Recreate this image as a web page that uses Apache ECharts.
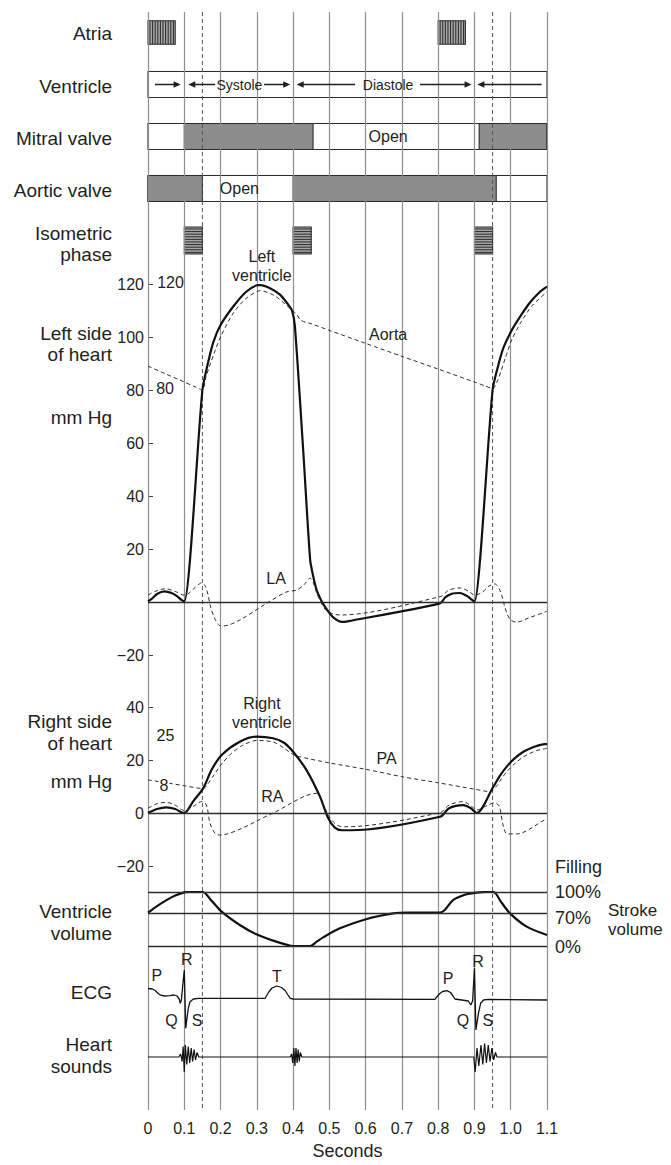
<!DOCTYPE html>
<html>
<head>
<meta charset="utf-8">
<script src="https://cdn.jsdelivr.net/npm/echarts@6/dist/echarts.min.js"></script>
<style>html,body{margin:0;padding:0;background:#fff}#c{width:671px;height:1165px}</style>
</head>
<body>
<div id="c"></div>
<script>
// ---------------- DATA ----------------
const timeTicks = [0, 0.1, 0.2, 0.3, 0.4, 0.5, 0.6, 0.7, 0.8, 0.9, 1.0, 1.1];
const dashedTimes = [0.15, 0.95];

// event rows (start, end in seconds)
const atriaSpans = [[0, 0.075], [0.8, 0.875]];
const mitralClosed = [[0.1, 0.455], [0.913, 1.1]];
const aorticClosed = [[0, 0.15], [0.4, 0.96]];
const isometricSpans = [[0.1, 0.15], [0.4, 0.45], [0.9, 0.95]];
const cycleArrows = [[0.019, 0.09, 1], [0.111, 0.185, -1], [0.32, 0.392, 1], [0.41, 0.571, -1], [0.75, 0.892, 1], [0.908, 1.085, -1]];
const rowTexts = [[0.252, 1, 'Systole', 14], [0.662, 1, 'Diastole', 14], [0.662, 2, 'Open', 16], [0.252, 3, 'Open', 16]];

// left heart pressures (mm Hg)
const leftVentricle = [[0,0.3],[0.01,1.2],[0.025,3],[0.045,4],[0.065,3.4],[0.08,2.2],[0.092,0.8],[0.1,0.2],
  [0.15,80],[0.165,90],[0.18,98],[0.2,104.5],[0.235,111.5],[0.27,117],[0.3,119.5],[0.31,119.6],[0.335,118.5],[0.364,116],[0.385,112.5],[0.397,110],
  [0.405,104],[0.428,57],[0.447,16],[0.455,10],[0.465,4.5],[0.478,0.5],[0.49,-2.2],[0.51,-5.7],[0.535,-7.5],[0.55,-7.3],
  [0.805,-0.5],[0.82,1.8],[0.84,3.2],[0.86,3.4],[0.88,2.2],[0.895,0.6],[0.9,0.1],
  [0.95,80],[0.965,89],[0.98,96],[1.003,102.6],[1.03,108.5],[1.053,113],[1.08,117],[1.1,119]];
const aorta = [[0,89],[0.05,86],[0.1,83],[0.13,81.2],[0.15,80],[0.16,85],[0.18,93],[0.2,100],[0.235,109],[0.27,114.5],[0.31,117.5],[0.35,115.5],[0.39,111],[0.41,108.5],
  [0.42,106.5],[0.435,105.5],[0.45,105],[0.5,102.5],[0.6,97.6],[0.7,92.7],[0.8,87.9],[0.9,83],[0.93,81.5],[0.95,80.5],[0.965,84],[0.985,92],[1.003,99],[1.03,106],[1.06,112],[1.1,117]];
const leftAtrium = [[0,2.6],[0.02,4],[0.047,5],[0.075,4],[0.1,2.6],[0.11,3],[0.13,5.5],[0.148,7.2],[0.158,6],[0.165,3],[0.172,-1.5],[0.185,-6.5],[0.2,-9],[0.21,-9],
  [0.253,-6.8],[0.327,-0.5],[0.382,3.8],[0.41,4.5],[0.43,6.5],[0.447,9],[0.455,7.5],[0.465,3.5],[0.478,-0.5],[0.49,-3],[0.51,-4.5],[0.53,-4.9],
  [0.805,2],[0.83,4.5],[0.86,5.3],[0.885,4],[0.9,2.6],[0.92,3.5],[0.94,6],[0.957,6.8],[0.968,5],[0.975,2.6],[0.982,-1],[0.99,-4.5],[1.0,-6.8],[1.016,-7.6],[1.05,-6],[1.094,-3.8],[1.1,-3.5]];

// right heart pressures (mm Hg)
const rightVentricle = [[0,0],[0.025,1.5],[0.051,2.1],[0.075,1.5],[0.092,0.3],[0.1,0],[0.125,4.5],[0.152,9.3],[0.175,16.2],[0.203,21.9],[0.253,26.9],[0.299,28.8],[0.345,28.2],[0.375,26.5],[0.4,23.1],
  [0.437,16.2],[0.474,6.2],[0.497,-2],[0.515,-5.5],[0.535,-6.5],[0.56,-6.5],[0.805,-1.4],[0.83,1.8],[0.869,3],[0.89,1.8],[0.906,0],
  [0.952,9.9],[0.97,14],[0.989,17.5],[1.01,20.5],[1.035,23.1],[1.065,25],[1.094,26],[1.1,26]];
const pulmonaryArtery = [[0,12.5],[0.05,11.4],[0.1,10.3],[0.152,9.2],[0.165,11],[0.18,14],[0.203,18.5],[0.23,22.5],[0.26,25.5],[0.3,27.4],[0.345,26.8],[0.375,24.5],[0.395,22.5],[0.41,21.5],
  [0.5,18.9],[0.6,16.5],[0.7,13.7],[0.8,11.4],[0.9,9],[0.945,8],[0.96,10],[0.975,13],[0.989,15.6],[1.01,18.5],[1.035,21.2],[1.07,23.5],[1.1,24.4]];
const rightAtrium = [[0,1.8],[0.025,3.5],[0.051,4],[0.075,3],[0.092,1.3],[0.1,1],[0.125,2.5],[0.148,4.3],[0.157,3.8],[0.163,2.2],[0.171,-3.9],[0.185,-7.7],[0.198,-8.3],[0.21,-8.2],
  [0.345,0],[0.464,7.4],[0.478,4.9],[0.497,-0.8],[0.52,-4.5],[0.543,-5.2],[0.805,0.1],[0.83,3],[0.869,4.3],[0.895,2.2],[0.906,1.1],[0.93,2.5],[0.957,3.9],[0.966,3],[0.97,1.9],
  [0.98,-5.2],[0.99,-7.9],[1.016,-7.9],[1.094,-2.6],[1.1,-2.3]];

// ventricle volume (relative scale; level lines)
const ventricleVolume = [[0,61.7],[0.025,74],[0.051,85],[0.075,93.5],[0.1,99.4],[0.11,100],[0.15,100],[0.175,84],[0.203,63.6],[0.253,38.9],[0.299,21.6],[0.345,9.9],[0.391,0.6],[0.4,0],[0.447,0],
  [0.465,8],[0.483,16],[0.529,32.7],[0.603,50],[0.676,60.5],[0.713,62],[0.805,62],[0.818,66.7],[0.841,85],[0.878,95.7],[0.906,98.8],[0.93,100],[0.952,100],[0.975,80],[0.998,60.5],[1.044,35.8],[1.1,20.4]];
const volumeLevels = [100, 61, 0];

// ECG (arbitrary units)
const ecg = [[0,1.05],[0.012,1.0],[0.02,0.85],[0.028,0.55],[0.035,0.38],[0.045,0.3],[0.06,0.33],[0.072,0.4],[0.08,0.3],[0.086,0],[0.089,-0.43],[0.092,-0.1],[0.1,2.9],[0.104,-2.93],[0.111,-0.93],[0.116,-0.27],[0.125,0],[0.139,0.07],
  [0.323,0.07],[0.328,0.4],[0.334,0.75],[0.342,1.1],[0.355,1.3],[0.368,1.15],[0.378,0.85],[0.386,0.4],[0.392,0.07],[0.4,0],
  [0.791,-0.03],[0.796,0.2],[0.803,0.5],[0.812,0.75],[0.824,0.83],[0.834,0.65],[0.841,0.3],[0.846,0],[0.865,-0.1],[0.883,-0.2],[0.89,-0.6],[0.895,-0.17],[0.9,3.07],[0.904,-3.1],[0.911,-1.43],[0.917,-0.43],[0.925,-0.1],[0.938,-0.03],[1.1,-0.1]];

// heart sounds (arbitrary units)
const heartSounds = [[0,0],[0.085,0],[0.09,2],[0.094,-3],[0.097,7],[0.1,-10],[0.103,8],[0.107,-5],[0.111,7],[0.115,-4],[0.119,6],[0.123,-3],[0.127,5],[0.131,-2],[0.135,3],[0.14,0],
  [0.392,0],[0.396,2],[0.399,-4],[0.402,6],[0.405,-6],[0.408,6],[0.411,-4],[0.414,5],[0.417,-3],[0.42,3],[0.424,0],
  [0.898,0],[0.902,-10],[0.907,6],[0.912,-6],[0.918,8],[0.923,-5],[0.928,9],[0.933,-4],[0.938,8],[0.943,-3],[0.948,6],[0.953,-2],[0.958,3],[0.962,0],[1.1,0]];

// tick labels
const leftPressureTicks = [-20, 20, 40, 60, 80, 100, 120];
const rightPressureTicks = [-20, 0, 20, 40];

// annotations [t, value, text, whiteBackground]
const leftNotes = [[0.314, 126.8, 'Left\nventricle'], [0.662, 101, 'Aorta'], [0.353, 8.7, 'LA'], [0.062, 120.6, '120'], [0.047, 80.5, '80']];
const rightNotes = [[0.314, 37.7, 'Right\nventricle'], [0.658, 20.6, 'PA'], [0.343, 6.4, 'RA'], [0.048, 29.4, '25'], [0.044, 10.3, '8', true]];
const ecgNotes = [[0.024, 2.4, 'P'], [0.107, 4.0, 'R'], [0.065, -2.1, 'Q'], [0.135, -2.1, 'S'], [0.355, 2.3, 'T'], [0.827, 2.1, 'P'], [0.91, 3.8, 'R'], [0.868, -2.1, 'Q'], [0.937, -2.1, 'S']];

// ---------------- LAYOUT / STYLE ----------------
const FONT = "'Liberation Sans', Arial, Helvetica, sans-serif";
const INK = '#231f20';
const L = 148, W = 399;
const gridBoxes = [
  {top: 12, height: 1103},      // 0 master (vertical lines + time axis)
  {top: 6.5, height: 260},      // 1 event rows
  {top: 257.5, height: 424},    // 2 left heart pressure
  {top: 693.75, height: 198.75},// 3 right heart pressure
  {top: 892, height: 54},       // 4 ventricle volume
  {top: 949, height: 100},      // 5 ECG
  {top: 1039, height: 36}       // 6 heart sounds
];
const yRanges = [[0, 1], [0, 5], [-30, 130], [-30, 45], [0, 100], [-5, 5], [-12, 12]];
const leftTitles = [['Atria', 33], ['Ventricle', 86], ['Mitral valve', 138], ['Aortic valve', 190], ['Isometric', 233], ['phase', 254],
  ['Left side', 333], ['of heart', 354], ['mm Hg', 417], ['Right side', 721], ['of heart', 743], ['mm Hg', 781],
  ['Ventricle', 911], ['volume', 933], ['ECG', 992], ['Heart', 1044], ['sounds', 1066]];
const rightTitles = [['Filling', 555, 867, 18], ['100%', 555, 892, 18], ['70%', 555, 918, 18], ['0%', 555, 947, 18], ['Stroke', 608, 910, 17], ['volume', 608, 929, 17]];

const minus = v => String(v).replace('-', '\u2212');

const grids = gridBoxes.map(g => ({left: L, width: W, top: g.top, height: g.height}));
const xAxes = gridBoxes.map((g, i) => i === 0 ? {
  gridIndex: 0, type: 'value', min: 0, max: 1.1, interval: 0.1, z: 1.5,
  axisLine: {show: false}, axisTick: {show: false},
  splitLine: {show: true, lineStyle: {color: '#8e8e8e', width: 1.2}},
  axisLabel: {fontSize: 16, fontFamily: FONT, color: INK, margin: 10, formatter: v => v === 0 ? '0' : v.toFixed(1)},
  name: 'Seconds', nameLocation: 'middle', nameGap: 32, nameTextStyle: {fontSize: 18, fontFamily: FONT, color: INK}
} : {gridIndex: i, type: 'value', min: 0, max: 1.1, show: false});

function pressureAxis(i, ticks) {
  return {gridIndex: i, type: 'value', min: yRanges[i][0], max: yRanges[i][1],
    axisLine: {show: false}, splitLine: {show: false},
    axisTick: {show: true, inside: true, length: 5, customValues: ticks, lineStyle: {color: '#444', width: 1}},
    axisLabel: {customValues: ticks, fontSize: 16, fontFamily: FONT, color: INK, margin: 4, formatter: minus}};
}
const yAxes = yRanges.map((r, i) => {
  if (i === 2) return pressureAxis(2, leftPressureTicks);
  if (i === 3) return pressureAxis(3, rightPressureTicks);
  return {gridIndex: i, type: 'value', min: r[0], max: r[1], inverse: i === 1, show: false};
});

// boxes
const boxItems = [];
atriaSpans.forEach(s => boxItems.push([s[0], s[1], 0, 2, 0.45]));
mitralClosed.forEach(s => boxItems.push([s[0], s[1], 2, 1, 0.5]));
aorticClosed.forEach(s => boxItems.push([s[0], s[1], 3, 1, 0.5]));
isometricSpans.forEach(s => boxItems.push([s[0], s[1], 4, 3, 0.52]));
[1, 2, 3].forEach(r => boxItems.push([0, 1.1, r, 0, 0.5]));

function renderBox(params, api) {
  const t0 = api.value(0), t1 = api.value(1), row = api.value(2), kind = api.value(3), h = api.value(4);
  const p0 = api.coord([t0, row + 0.5]), p1 = api.coord([t1, row + 0.5]);
  const hp = api.size([0, h])[1];
  const x = p0[0], w = p1[0] - p0[0], y = p0[1] - hp / 2;
  const ch = [];
  ch.push({type: 'rect', shape: {x, y, width: w, height: hp},
    style: {fill: kind === 0 ? 'none' : (kind === 1 ? '#8c8c8c' : '#a6a6a6'), stroke: '#2b2b2b', lineWidth: 1.1}});
  if (kind === 2) {
    for (let xx = x + 2; xx < x + w - 1; xx += 2.6)
      ch.push({type: 'line', shape: {x1: xx, y1: y, x2: xx, y2: y + hp}, style: {stroke: '#2b2b2b', lineWidth: 1}});
  }
  if (kind === 3) {
    for (let yy = y + 2; yy < y + hp - 1; yy += 2.6)
      ch.push({type: 'line', shape: {x1: x, y1: yy, x2: x + w, y2: yy}, style: {stroke: '#2b2b2b', lineWidth: 1}});
  }
  return {type: 'group', children: ch};
}
function renderArrow(params, api) {
  const a = api.coord([api.value(0), 1.5]), b = api.coord([api.value(1), 1.5]);
  const dir = api.value(2), y = a[1];
  const hl = 7, hw = 3.2;
  let line, head;
  if (dir > 0) {
    line = {x1: a[0], y1: y, x2: b[0] - hl + 1, y2: y};
    head = [[b[0], y], [b[0] - hl, y - hw], [b[0] - hl, y + hw]];
  } else {
    line = {x1: a[0] + hl - 1, y1: y, x2: b[0], y2: y};
    head = [[a[0], y], [a[0] + hl, y - hw], [a[0] + hl, y + hw]];
  }
  return {type: 'group', children: [
    {type: 'line', shape: line, style: {stroke: INK, lineWidth: 1.5}},
    {type: 'polygon', shape: {points: head}, style: {fill: INK}}]};
}
function textSeries(gi, arr, defaultSize) {
  return {type: 'custom', xAxisIndex: gi, yAxisIndex: gi, data: arr.map(a => [a[0], a[1]]), z: 6, silent: true, clip: false,
    renderItem(params, api) {
      const item = arr[params.dataIndex];
      const p = api.coord([api.value(0), api.value(1)]);
      const size = (typeof item[3] === 'number') ? item[3] : defaultSize;
      const st = {text: item[2], fontSize: size, fontFamily: FONT, fill: INK, align: 'center', verticalAlign: 'middle', lineHeight: size + 3};
      if (item[3] === true) { st.backgroundColor = '#fff'; st.padding = [0, 1]; }
      return {type: 'text', x: p[0], y: p[1], style: st};
    }};
}
function lineSeries(gi, data, opts) {
  return Object.assign({type: 'line', xAxisIndex: gi, yAxisIndex: gi, data, symbol: 'none', silent: true, z: 3,
    lineStyle: {color: '#111', width: 2.2}}, opts || {});
}
const dashed = {color: '#2e2e2e', width: 1, type: [4, 3]};
const levelLine = v => ({symbol: 'none', silent: true, label: {show: false}, animation: false,
  lineStyle: {color: '#2e2e2e', width: 1.3, type: 'solid'}, data: v.map(y => ({yAxis: y}))});

const series = [
  {type: 'custom', xAxisIndex: 0, yAxisIndex: 0, data: dashedTimes.map(t => [t]), silent: true, z: 2,
    renderItem(params, api) {
      const a = api.coord([api.value(0), 1]), b = api.coord([api.value(0), 0]);
      return {type: 'line', shape: {x1: a[0], y1: a[1], x2: b[0], y2: b[1]}, style: {stroke: '#555', lineWidth: 1, lineDash: [4, 3]}};
    }},
  {type: 'custom', xAxisIndex: 1, yAxisIndex: 1, data: boxItems, renderItem: renderBox, silent: true, clip: false, z: 1},
  {type: 'custom', xAxisIndex: 1, yAxisIndex: 1, data: cycleArrows, renderItem: renderArrow, silent: true, clip: false, z: 3},
  textSeries(1, rowTexts.map(r => [r[0], r[1] + 0.5, r[2], r[3]]), 16),
  lineSeries(2, leftVentricle, {smooth: 0.25, markLine: levelLine([0])}),
  lineSeries(2, aorta, {smooth: 0.25, lineStyle: dashed}),
  lineSeries(2, leftAtrium, {smooth: 0.3, lineStyle: dashed}),
  textSeries(2, leftNotes, 16),
  lineSeries(3, rightVentricle, {smooth: 0.3, markLine: levelLine([0])}),
  lineSeries(3, pulmonaryArtery, {smooth: 0.25, lineStyle: dashed}),
  lineSeries(3, rightAtrium, {smooth: 0.3, lineStyle: dashed}),
  textSeries(3, rightNotes, 16),
  lineSeries(4, ventricleVolume, {smooth: 0.3, markLine: levelLine(volumeLevels)}),
  lineSeries(5, ecg, {smooth: false, lineStyle: {color: '#111', width: 1.3}}),
  textSeries(5, ecgNotes, 16),
  lineSeries(6, heartSounds, {smooth: false, lineStyle: {color: '#111', width: 1.2}})
];

const graphic = leftTitles.map(t => ({type: 'text', x: 112, y: t[1], silent: true,
  style: {text: t[0], fontSize: 19, fontFamily: FONT, fill: INK, align: 'right', verticalAlign: 'middle', textAlign: 'right', textVerticalAlign: 'middle'}}))
  .concat(rightTitles.map(t => ({type: 'text', x: t[1], y: t[2], silent: true,
  style: {text: t[0], fontSize: t[3], fontFamily: FONT, fill: INK, align: 'left', verticalAlign: 'middle', textAlign: 'left', textVerticalAlign: 'middle'}})));

const chart = echarts.init(document.getElementById('c'), null, {renderer: 'svg', width: 671, height: 1165});
chart.setOption({
  backgroundColor: '#fff',
  animation: false,
  grid: grids,
  xAxis: xAxes,
  yAxis: yAxes,
  series,
  graphic
});
</script>
</body>
</html>
